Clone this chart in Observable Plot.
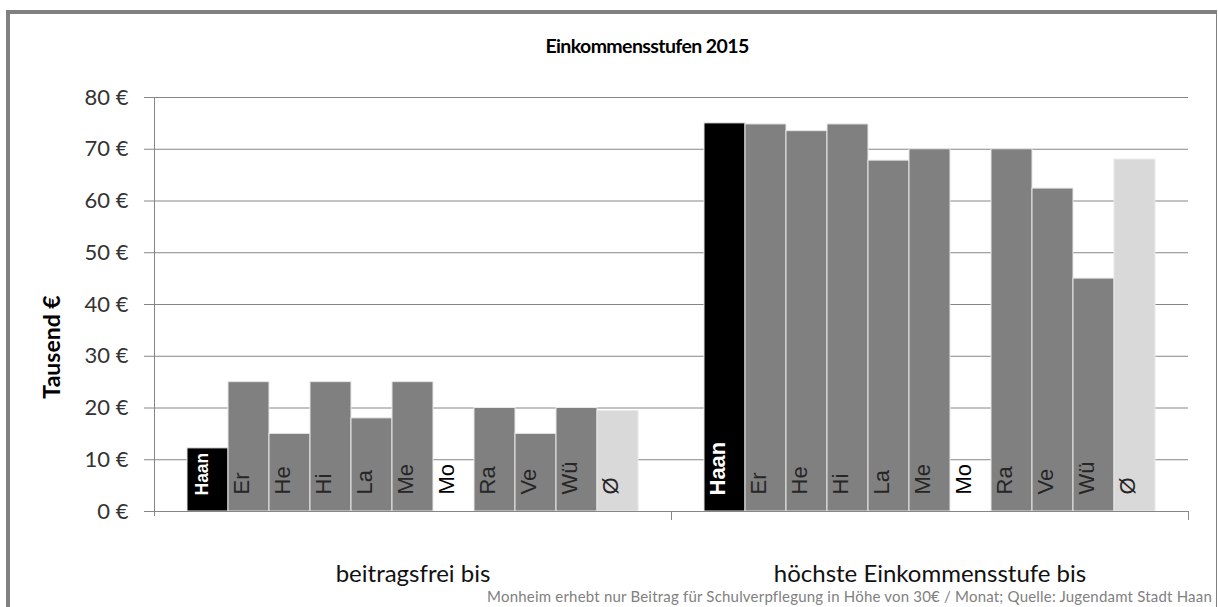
<!DOCTYPE html>
<html>
<head>
<meta charset="utf-8">
<script src="https://cdn.jsdelivr.net/npm/d3@7"></script>
<script src="https://cdn.jsdelivr.net/npm/@observablehq/plot@0.6"></script>
<style>
  body { margin: 0; background: #fff; }
  #wrap { position: relative; width: 1218px; height: 607px; overflow: hidden; font-family: Lato, "Open Sans", sans-serif; }
  #chart { position: absolute; left: 0; top: 0; }
  #frame { position: absolute; left: 6px; top: 10px; width: 1206px; height: 620px; border-left: 4px solid #808080; border-top: 4px solid #808080; border-right: 1px solid #808080; pointer-events: none; }
  #title { position: absolute; top: 34px; left: 0; width: 1294px; text-align: center; font-weight: bold; font-size: 19.5px; letter-spacing: -0.6px; color: #000; }
  #ylabel { position: absolute; left: 51px; top: 347px; transform: translate(-50%, -50%) rotate(-90deg); font-weight: bold; font-size: 23px; color: #000; white-space: nowrap; }
  #caption { position: absolute; right: 6px; top: 587px; font-size: 15px; letter-spacing: 0.2px; color: #7f7f7f; white-space: nowrap; }
</style>
</head>
<body>
<div id="wrap">
  <div id="chart"></div>
  <div id="frame"></div>
  <div id="title">Einkommensstufen 2015</div>
  <div id="ylabel">Tausend €</div>
  <div id="caption">Monheim erhebt nur Beitrag für Schulverpflegung in Höhe von 30€ / Monat; Quelle: Jugendamt Stadt Haan</div>
</div>
<script>
const groups = ["beitragsfrei bis", "höchste Einkommensstufe bis"];
const cities = ["Haan", "Er", "He", "Hi", "La", "Me", "Mo", "Ra", "Ve", "Wü", "Ø"];
const beitragsfrei = [12.2, 25, 15, 25, 18, 25, null, 20, 15, 20, 19.4];
const hoechste = [75, 74.8, 73.5, 74.8, 67.8, 70, null, 70, 62.4, 45, 68];
const yTicks = [0, 10, 20, 30, 40, 50, 60, 70, 80];

const cityColors = ["#000000", "#808080", "#808080", "#808080", "#808080", "#808080", "#ffffff", "#808080", "#808080", "#808080", "#d9d9d9"];
const series = [beitragsfrei, hoechste];
const rows = groups.flatMap((g, gi) => cities.map((c, i) => ({group: g, city: c, value: series[gi][i]})));
const haanRows = rows.filter(d => d.city === "Haan");
const otherRows = rows.filter(d => d.city !== "Haan");

const grid = "#868686";

const chart = Plot.plot({
  width: 1218,
  height: 607,
  marginLeft: 153,
  marginRight: 30,
  marginTop: 97,
  marginBottom: 96,
  style: {fontFamily: "Lato, 'Open Sans', sans-serif", background: "transparent", overflow: "visible"},
  fx: {domain: groups, padding: 0},
  x: {domain: cities, paddingInner: 0, paddingOuter: 0.75, axis: null},
  y: {domain: [0, 80]},
  color: {type: "ordinal", domain: cities, range: cityColors},
  marks: [
    Plot.ruleY(yTicks, {stroke: grid, strokeWidth: 1}),
    Plot.barY(rows.filter(d => d.value != null), {fx: "group", x: "city", y: "value", fill: "city", stroke: "#e8e8e8", strokeWidth: 1}),
    Plot.ruleY([0], {stroke: grid, strokeWidth: 1}),
    Plot.text(otherRows, {
      fx: "group", x: "city", frameAnchor: "bottom", text: "city",
      rotate: -90, textAnchor: "start", dy: -17,
      fontFamily: "'Liberation Sans', Arial, sans-serif", fontSize: 22,
      fill: d => d.city === "Mo" ? "#000000" : "#262626"
    }),
    Plot.text(haanRows, {
      fx: "group", x: "city", frameAnchor: "bottom", text: "city",
      rotate: -90, textAnchor: "start", dy: -16,
      fontFamily: "'Liberation Sans', Arial, sans-serif", fontWeight: "bold",
      fontSize: d => d.group === groups[0] ? 17.5 : 22,
      fill: "#ffffff"
    }),
    Plot.frame({anchor: "left", facetAnchor: "left", stroke: grid, insetBottom: -4}),
    Plot.frame({anchor: "right", stroke: grid, insetTop: 414, insetBottom: -8}),
    Plot.axisY(yTicks, {tickFormat: d => d + " €", tickSize: 10, tickPadding: 16, fontSize: 22, fill: "#333", stroke: grid, label: null}),
    Plot.axisFx({anchor: "bottom", tickSize: 0, tickPadding: 53, fontSize: 24, fill: "#111", label: null})
  ]
});
document.getElementById("chart").appendChild(chart);
</script>
</body>
</html>
